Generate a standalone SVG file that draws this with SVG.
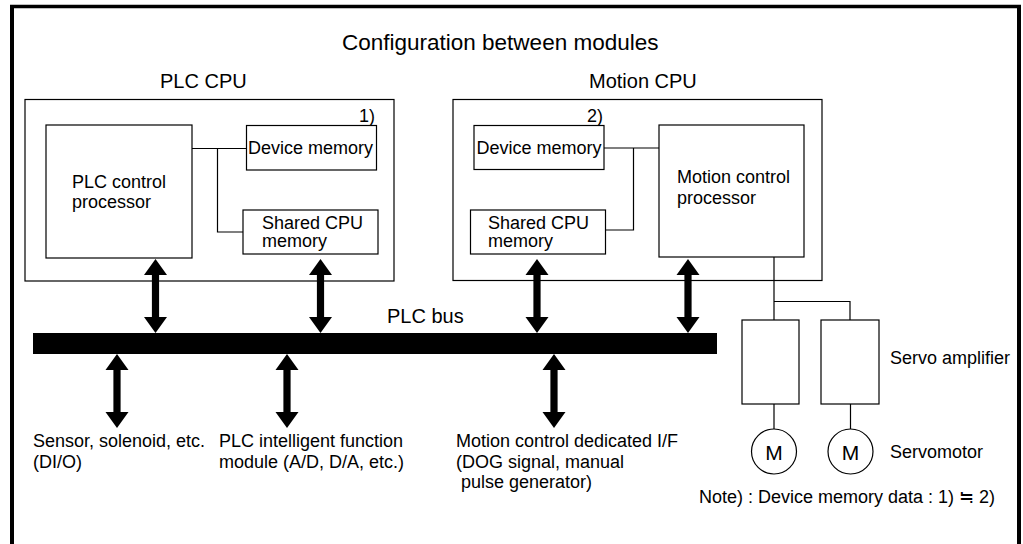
<svg xmlns="http://www.w3.org/2000/svg" width="1023" height="544" viewBox="0 0 1023 544">
<style>
.box{fill:#fff;stroke:#000;stroke-width:1.2}
.ln{fill:none;stroke:#000;stroke-width:1.2}
.t{font-family:"Liberation Sans",Arial,sans-serif;font-size:18px;fill:#000}
.h{font-family:"Liberation Sans",Arial,sans-serif;font-size:20px;fill:#000}
.frame{fill:none;stroke:#000}
</style>
<defs>
<path id="darrow" d="M0,0 L11.5,16 H3.6 V58 H11.5 L0,74 L-11.5,58 H-3.6 V16 H-11.5 Z" fill="#000"/>
</defs>
<rect width="1023" height="544" fill="#fff"/>
<g id="frame">
<line class="frame" x1="12" y1="544" x2="12" y2="5" stroke-width="4"/>
<line class="frame" x1="10" y1="6.5" x2="1021" y2="6.5" stroke-width="3.5"/>
<line class="frame" x1="1019" y1="5" x2="1019" y2="544" stroke-width="4"/>
</g>
<text class="t" x="342" y="50" style="font-size:22.5px">Configuration between modules</text>
<g id="plc-cpu">
<text class="h" x="160" y="88">PLC CPU</text>
<rect class="box" x="25" y="99.5" width="369" height="181.5"/>
<text class="t" x="375" y="122" text-anchor="end">1)</text>
</g>
<g id="plc-control-processor">
<rect class="box" x="46" y="125" width="146" height="133"/>
<text class="t" x="72" y="188">PLC control</text>
<text class="t" x="72" y="208">processor</text>
</g>
<g id="plc-device-memory">
<rect class="box" x="246.5" y="125.5" width="130" height="44.5"/>
<text class="t" x="248" y="154">Device memory</text>
</g>
<g id="plc-shared-memory">
<rect class="box" x="243" y="210" width="135" height="44"/>
<text class="t" x="262" y="229">Shared CPU</text>
<text class="t" x="262" y="247">memory</text>
</g>
<g id="motion-cpu">
<text class="h" x="589" y="88">Motion CPU</text>
<rect class="box" x="453" y="99.5" width="369" height="181"/>
<text class="t" x="603" y="122" text-anchor="end">2)</text>
</g>
<g id="motion-device-memory">
<rect class="box" x="474" y="125.5" width="130" height="44"/>
<text class="t" x="476.5" y="154">Device memory</text>
</g>
<g id="motion-shared-memory">
<rect class="box" x="470.5" y="210" width="135" height="44"/>
<text class="t" x="488" y="229">Shared CPU</text>
<text class="t" x="488" y="247">memory</text>
</g>
<g id="motion-control-processor">
<rect class="box" x="659" y="125" width="145" height="132"/>
<text class="t" x="677" y="183">Motion control</text>
<text class="t" x="677" y="203.5">processor</text>
</g>
<g id="plc-bus">
<rect x="33" y="333" width="684" height="21" fill="#000"/>
<text class="h" x="387" y="323">PLC bus</text>
</g>
<g id="servo-amp-1">
<rect class="box" x="742" y="320" width="57" height="84"/>
</g>
<g id="servo-amp-2">
<rect class="box" x="821" y="320" width="58" height="84"/>
</g>
<text class="t" x="890" y="364">Servo amplifier</text>
<g id="servomotor-1">
<circle class="box" cx="774" cy="451.5" r="22.5"/>
<text class="t" x="774" y="460" text-anchor="middle" style="font-size:21px">M</text>
</g>
<g id="servomotor-2">
<circle class="box" cx="850.5" cy="451.5" r="22.5"/>
<text class="t" x="850.5" y="460" text-anchor="middle" style="font-size:21px">M</text>
</g>
<text class="t" x="890" y="458">Servomotor</text>
<g id="sensor">
<text class="t" x="33" y="447">Sensor, solenoid, etc.</text>
<text class="t" x="33" y="468">(DI/O)</text>
</g>
<g id="intelligent-module">
<text class="t" x="219" y="447">PLC intelligent function</text>
<text class="t" x="219" y="468">module (A/D, D/A, etc.)</text>
</g>
<g id="motion-if">
<text class="t" x="456" y="447">Motion control dedicated I/F</text>
<text class="t" x="456" y="467.5">(DOG signal, manual</text>
<text class="t" x="461" y="488">pulse generator)</text>
</g>
<text class="t" x="995" y="503" text-anchor="end">Note) : Device memory data : 1) ≒ 2)</text>
<g id="connectors">
<path class="ln" d="M192,148.5 H246.5 M217.5,148.5 V232 H243"/>
<path class="ln" d="M604,148 H659 M633.5,148 V230 H605.5"/>
<path class="ln" d="M774,257 V320 M774,301.5 H850 V320"/>
<path class="ln" d="M774,404 V429 M850.5,404 V429"/>
<use href="#darrow" transform="translate(155.5,259)"/>
<use href="#darrow" transform="translate(320.5,259)"/>
<use href="#darrow" transform="translate(537,259)"/>
<use href="#darrow" transform="translate(688,259)"/>
<use href="#darrow" transform="translate(117,354)"/>
<use href="#darrow" transform="translate(287,354)"/>
<use href="#darrow" transform="translate(554,354)"/>
</g>
</svg>
